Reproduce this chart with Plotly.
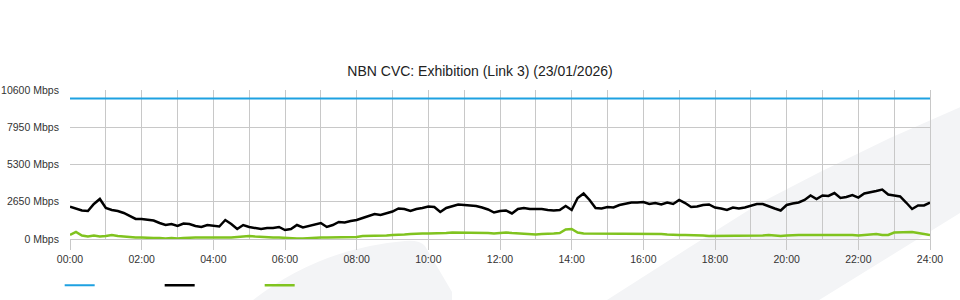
import numpy as np
import plotly.graph_objects as go

# ---- data (10-minute samples, 00:00 .. 24:00) ----
step_minutes = 10
capacity_mbps = 10000

download_mbps = [
    2300, 2170, 2030, 1990, 2490, 2850, 2205, 2065, 1990, 1850,
    1635, 1425, 1425, 1390, 1315, 1140, 995, 1065, 925, 1100,
    1065, 925, 855, 995, 925, 890, 1350, 1065, 710, 995,
    855, 785, 710, 785, 785, 855, 640, 710, 995, 820,
    925, 995, 1140, 855, 995, 1210, 1175, 1280, 1350, 1495,
    1635, 1780, 1705, 1850, 1955, 2170, 2135, 1990, 2135, 2205,
    2310, 2275, 1920, 2205, 2350, 2455, 2420, 2385, 2350, 2240,
    2100, 1885, 1990, 2030, 1815, 2135, 2205, 2135, 2135, 2135,
    2065, 2030, 2065, 2350, 2065, 2915, 3235, 2775, 2205, 2170,
    2275, 2240, 2420, 2490, 2595, 2595, 2630, 2490, 2560, 2455,
    2595, 2490, 2775, 2560, 2275, 2310, 2420, 2455, 2240, 2170,
    2065, 2240, 2170, 2240, 2385, 2490, 2490, 2310, 2170, 2030,
    2420, 2525, 2595, 2775, 3095, 2845, 3095, 3060, 3270, 2915,
    2990, 3130, 2950, 3235, 3310, 3415, 3520, 3165, 3095, 3025,
    2595, 2135, 2385, 2385, 2595,
]

upload_mbps = [
    285, 500, 250, 180, 250, 180, 215, 285, 215, 180,
    105, 105, 105, 70, 70, 70, 35, 70, 35, 70,
    105, 105, 105, 105, 70, 70, 105, 105, 140, 180,
    215, 180, 140, 140, 105, 105, 70, 35, 35, 35,
    70, 70, 105, 105, 105, 105, 105, 140, 140, 215,
    215, 215, 250, 250, 285, 285, 320, 355, 390, 390,
    390, 390, 390, 425, 460, 460, 425, 460, 425, 425,
    425, 390, 425, 460, 425, 390, 390, 355, 320, 355,
    355, 390, 425, 675, 710, 460, 390, 390, 390, 355,
    390, 390, 390, 355, 355, 355, 390, 355, 355, 355,
    320, 285, 285, 285, 285, 250, 250, 215, 215, 215,
    215, 215, 215, 215, 215, 215, 250, 285, 250, 215,
    250, 285, 285, 285, 285, 285, 285, 285, 320, 285,
    285, 285, 250, 285, 320, 355, 285, 285, 460, 460,
    460, 500, 425, 355, 285,
]

hour_ticks = list(range(0, 25, 2))
hour_labels = [f"{h:02d}:00" for h in hour_ticks]
y_ticks = [0, 2650, 5300, 7950, 10600]
y_labels = [f"{v} Mbps" for v in y_ticks]

title_text = "NBN CVC: Exhibition (Link 3) (23/01/2026)"

hours = np.arange(len(download_mbps)) * step_minutes / 60.0

FONT = "Liberation Sans, Arial, sans-serif"
GRID = "#c8c8c8"
TICKFONT = dict(family=FONT, size=10.5, color="#333333")

fig = go.Figure()
fig.add_trace(go.Scatter(x=[hours[0], hours[-1]], y=[capacity_mbps, capacity_mbps],
                         mode="lines", name="", line=dict(color="#1ea1e1", width=2)))
fig.add_trace(go.Scatter(x=hours, y=download_mbps, mode="lines", name="",
                         line=dict(color="#000000", width=2.5)))
fig.add_trace(go.Scatter(x=hours, y=upload_mbps, mode="lines", name="",
                         line=dict(color="#80c31f", width=2.5)))
# invisible helper trace on a right-hand axis that only draws the right border
fig.add_trace(go.Scatter(x=[hours[0]], y=[0], yaxis="y2", mode="lines",
                         showlegend=False, hoverinfo="skip", line=dict(width=0)))

# watermark swooshes (paper coordinates)
fig.add_shape(type="path", xref="paper", yref="paper", layer="below",
              path="M 0.2128,-0.48 L 0.2128,-0.4094 Q 0.2907,-0.0604 0.3895,-0.0134 "
                   "Q 0.4070,-0.0067 0.4128,-0.0470 L 0.4442,-0.3557 L 0.4442,-0.48 Z",
              fillcolor="#f3f4f6", line=dict(width=0))
fig.add_shape(type="path", xref="paper", yref="paper", layer="below",
              path="M 0.6058,-0.4765 L 0.6244,-0.4094 L 0.7209,-0.0537 L 0.8023,0.2416 "
                   "L 0.8721,0.4497 L 0.9535,0.6779 L 1.0465,0.9128 L 1.0465,0.2148 "
                   "L 1.0349,0.1745 L 0.8523,-0.4765 Z",
              fillcolor="#f3f4f6", line=dict(width=0))

fig.update_layout(
    width=960, height=300,
    margin=dict(l=70, r=30, t=90, b=61, autoexpand=False),
    paper_bgcolor="white", plot_bgcolor="rgba(0,0,0,0)",
    font=dict(family=FONT, size=11, color="#333333"),
    title=dict(text=title_text, x=0.5, xref="container", xanchor="center",
               y=0.763, yref="container", yanchor="middle",
               font=dict(family=FONT, size=14, color="#222222")),
    showlegend=True,
    legend=dict(orientation="h", x=-0.012, xanchor="left", y=-0.31, yanchor="middle",
                entrywidth=55, entrywidthmode="pixels", itemwidth=30,
                font=dict(size=11), bgcolor="rgba(0,0,0,0)"),
    hovermode=False,
    yaxis2=dict(overlaying="y", side="right", range=[0, 10600], showgrid=False,
                zeroline=False, showticklabels=False, ticks="", showline=True,
                linecolor=GRID, linewidth=1, automargin=False),
)
fig.update_xaxes(range=[0, 24], tickmode="array", tickvals=hour_ticks, ticktext=hour_labels,
                 ticks="outside", ticklen=10, tickcolor=GRID, tickwidth=1, automargin=False,
                 showline=True, linecolor=GRID, linewidth=1,
                 showgrid=True, gridcolor=GRID, gridwidth=1, zeroline=False,
                 minor=dict(tickmode="linear", tick0=0, dtick=1, showgrid=True,
                            gridcolor=GRID, gridwidth=1, ticks=""),
                 tickfont=TICKFONT)
fig.update_yaxes(selector=dict(anchor="x"), range=[0, 10600], tickmode="array",
                 tickvals=y_ticks, ticktext=y_labels,
                 ticks="outside", ticklen=8, tickcolor="rgba(0,0,0,0)", automargin=False,
                 showgrid=True, gridcolor=GRID, gridwidth=1, zeroline=False,
                 tickfont=TICKFONT)
fig.layout.yaxis.update(range=[0, 10600], tickmode="array", tickvals=y_ticks,
                        ticktext=y_labels, ticks="outside", ticklen=8,
                        tickcolor="rgba(0,0,0,0)", automargin=False, showgrid=True,
                        gridcolor=GRID, gridwidth=1, zeroline=False, tickfont=TICKFONT)

fig.write_html("out.html")
